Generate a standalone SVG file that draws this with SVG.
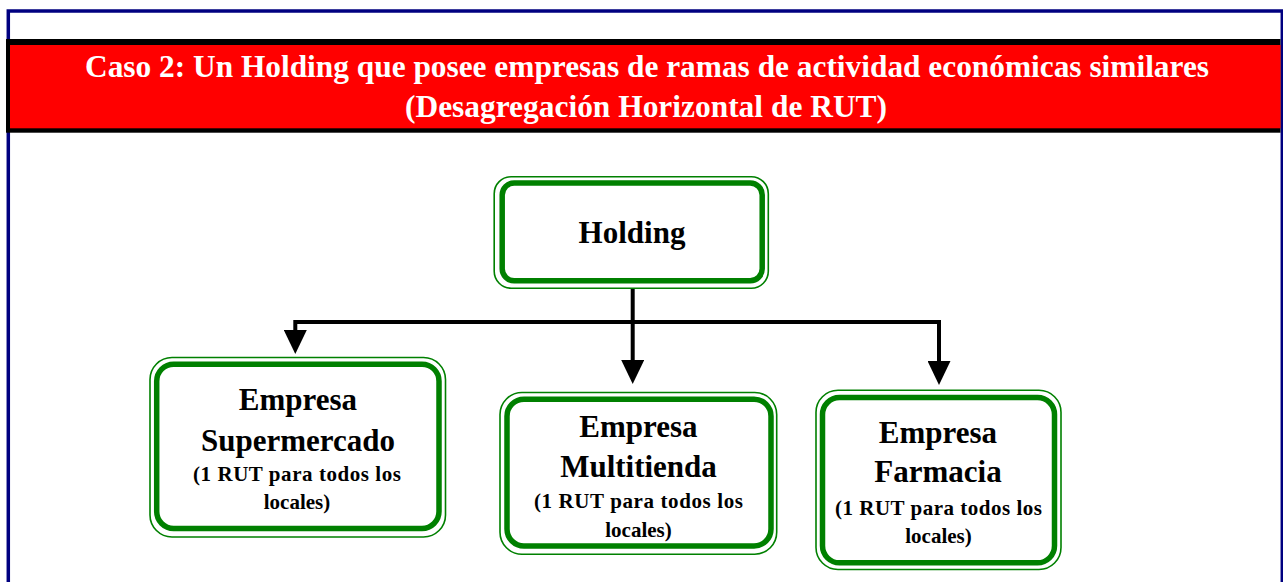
<svg xmlns="http://www.w3.org/2000/svg" width="1283" height="582" viewBox="0 0 1283 582">
  <defs>
    <marker id="arrow" viewBox="0 0 24 23" refX="0" refY="11.5" markerWidth="24" markerHeight="23" markerUnits="userSpaceOnUse" orient="auto">
      <path d="M0,0 L24,11.5 L0,23 z" fill="#000"/>
    </marker>
    <style>
      .frame { fill: #fff; stroke: #000080; stroke-width: 3.5; }
      .title { font-family: "Liberation Serif", "Times New Roman", serif; font-weight: bold; font-size: 31px; fill: #fff; text-anchor: middle; }
      .outer { fill: #fff; stroke: #008000; stroke-width: 1.6; }
      .inner { fill: #fff; stroke: #008000; stroke-width: 5.5; }
      .big { font-family: "Liberation Serif", "Times New Roman", serif; font-weight: bold; font-size: 31px; fill: #000; text-anchor: middle; }
      .small { font-family: "Liberation Serif", "Times New Roman", serif; font-weight: bold; font-size: 21px; fill: #000; text-anchor: middle; }
      .conn { fill: none; stroke: #000; stroke-width: 4; stroke-linejoin: miter; }
    </style>
  </defs>

  <rect x="0" y="0" width="1283" height="582" fill="#fff"/>
  <rect class="frame" x="8.3" y="11" width="1274" height="620"/>

  <g id="title-band">
    <rect x="6" y="39" width="1274.5" height="93.7" fill="#000"/>
    <rect x="10" y="45" width="1270.5" height="83.3" fill="#ff0000"/>
    <text class="title" x="647" y="77" textLength="1124" lengthAdjust="spacingAndGlyphs">Caso 2: Un Holding que posee empresas de ramas de actividad económicas similares</text>
    <text class="title" x="646" y="117" textLength="482" lengthAdjust="spacingAndGlyphs">(Desagregación Horizontal de RUT)</text>
  </g>

  <g id="connectors">
    <path class="conn" d="M632.7,289 V360" marker-end="url(#arrow)"/>
    <path class="conn" d="M632.7,322 H295.3 V330" marker-end="url(#arrow)"/>
    <path class="conn" d="M632.7,322 H939 V361" marker-end="url(#arrow)"/>
  </g>

  <g id="holding">
    <rect class="outer" x="494.2" y="176.7" width="274.1" height="111.5" rx="17"/>
    <rect class="inner" x="502.2" y="183" width="260" height="97.8" rx="12"/>
    <text class="big" x="632" y="243">Holding</text>
  </g>

  <g id="supermercado">
    <rect class="outer" x="150" y="357.5" width="295.5" height="179.5" rx="22"/>
    <rect class="inner" x="156.7" y="364.2" width="282.3" height="164.3" rx="17"/>
    <text class="big" x="298" y="410">Empresa</text>
    <text class="big" x="298" y="451">Supermercado</text>
    <text class="small" x="297" y="481" textLength="208" lengthAdjust="spacing">(1 RUT para todos los</text>
    <text class="small" x="297" y="509">locales)</text>
  </g>

  <g id="multitienda">
    <rect class="outer" x="500" y="392.5" width="276.7" height="161.7" rx="22"/>
    <rect class="inner" x="507" y="399.2" width="264" height="146.8" rx="17"/>
    <text class="big" x="638.5" y="437">Empresa</text>
    <text class="big" x="638.5" y="477">Multitienda</text>
    <text class="small" x="638.5" y="508" textLength="209" lengthAdjust="spacing">(1 RUT para todos los</text>
    <text class="small" x="638.5" y="537">locales)</text>
  </g>

  <g id="farmacia">
    <rect class="outer" x="816" y="390.3" width="245" height="179.2" rx="22"/>
    <rect class="inner" x="822.5" y="397.5" width="232" height="165.3" rx="17"/>
    <text class="big" x="938" y="443">Empresa</text>
    <text class="big" x="938" y="482">Farmacia</text>
    <text class="small" x="938.5" y="515" textLength="207" lengthAdjust="spacing">(1 RUT para todos los</text>
    <text class="small" x="938.5" y="543">locales)</text>
  </g>
</svg>
